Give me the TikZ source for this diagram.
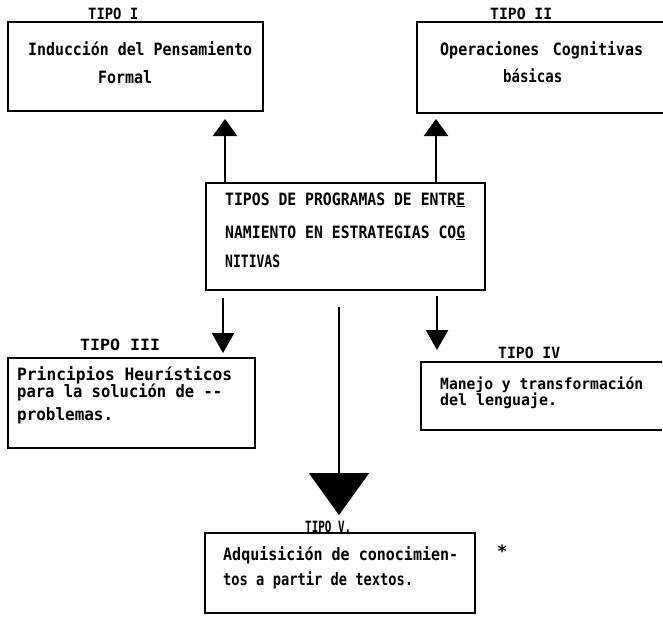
\documentclass[tikz,border=0pt]{standalone}
\usepackage{fontspec}
\usepackage{graphicx}
\usetikzlibrary{arrows.meta}
\newfontfamily\twfont{DejaVu Sans Mono Bold}
\newcommand\fitline[2]{\resizebox{#1pt}{\height}{#2}}
\begin{document}
\begin{tikzpicture}[x=1pt,y=-1pt,
  boxframe/.style={draw, line width=1.6pt, inner sep=0pt},
  openframe/.style={draw=none, inner sep=0pt},
  txt/.style={anchor=base west, inner sep=0pt, font={\twfont\fontsize{17pt}{20pt}\selectfont}},
  tighttxt/.style={anchor=base west, inner sep=0pt, font={\twfont\fontsize{15.5pt}{18pt}\selectfont}},
  lbl/.style={anchor=base west, inner sep=0pt, font={\twfont\fontsize{15.5pt}{18pt}\selectfont}},
  smallarrow/.style={line width=2.4pt, -{Triangle[width=24pt,length=17pt]}},
  downarrow/.style={line width=2.4pt, -{Triangle[width=22pt,length=20pt]}},
  bigarrow/.style={line width=2.4pt, -{Triangle[width=60pt,length=42pt]}}
]
\fill[white] (0,0) rectangle (663,616);
\useasboundingbox (0,0) rectangle (663,616);

% Box I
\node[boxframe, minimum width=255pt, minimum height=89pt] (b1) at (135.5,66.5) {};
\node[lbl] (l1) at (88,19) {\fitline{50}{TIPO I}};
\node[txt] (t1a) at (28,55) {\fitline{224}{Inducción del Pensamiento}};
\node[txt] (t1b) at (98,83) {\fitline{54}{Formal}};

% Box II (open to the right)
\node[openframe, minimum width=246pt, minimum height=91pt] (b2) at (540,67.5) {};
\draw[line width=1.6pt] (b2.north east) -- (b2.north west) -- (b2.south west) -- (b2.south east);
\node[lbl] (l2) at (490,19) {\fitline{62}{TIPO II}};
\node[txt] (t2a) at (440,55) {\fitline{203}{Operaciones\hspace{0.9em}Cognitivas}};
\node[txt] (t2b) at (503,82) {\fitline{59}{básicas}};

% Central box
\node[boxframe, minimum width=279pt, minimum height=107pt] (c) at (345.5,236.5) {};
\node[txt] (c1) at (225,205) {\fitline{240}{TIPOS DE PROGRAMAS DE ENTR\underline{E}}};
\node[txt] (c2) at (225,238) {\fitline{240}{NAMIENTO EN ESTRATEGIAS CO\underline{G}}};
\node[txt] (c3) at (225,267) {\fitline{55}{NITIVAS}};

% Box III
\node[boxframe, minimum width=247pt, minimum height=90pt] (b3) at (131.5,403) {};
\node[lbl] (l3) at (80,350) {\fitline{80}{TIPO III}};
\node[txt] (t3a) at (17,380) {\fitline{215}{Principios Heurísticos}};
\node[txt] (t3b) at (17,397) {\fitline{205}{para la solución de --}};
\node[txt] (t3c) at (17,420) {\fitline{96}{problemas.}};

% Box IV (open to the right)
\node[openframe, minimum width=241pt, minimum height=68pt] (b4) at (541.5,396) {};
\draw[line width=1.6pt] (b4.north east) -- (b4.north west) -- (b4.south west) -- (b4.south east);
\node[lbl] (l4) at (498,358) {\fitline{62}{TIPO IV}};
\node[tighttxt] (t4a) at (440,389) {\fitline{203}{Manejo y transformación}};
\node[tighttxt] (t4b) at (440,405) {\fitline{117}{del lenguaje.}};

% Box V
\node[boxframe, minimum width=270pt, minimum height=80pt] (b5) at (340,573) {};
\node[lbl] (l5) at (305,532) {\fitline{46}{TIPO V.}};
\node[txt] (t5a) at (223,560) {\fitline{235}{Adquisición de conocimien-}};
\node[txt] (t5b) at (223,585) {\fitline{190}{tos a partir de textos.}};
\node[txt] (star) at (497,557) {*};

% Arrows
\coordinate (a1s) at (225,183);
\coordinate (a1e) at (225,119);
\coordinate (a2s) at (436,183);
\coordinate (a2e) at (436,119);
\coordinate (a3s) at (223,298);
\coordinate (a3e) at (223,353);
\coordinate (a4s) at (437,296);
\coordinate (a4e) at (437,350);
\coordinate (a5s) at (339,307);
\coordinate (a5e) at (339,515);
\draw[smallarrow] (a1s) -- (a1e);
\draw[smallarrow] (a2s) -- (a2e);
\draw[downarrow] (a3s) -- (a3e);
\draw[downarrow] (a4s) -- (a4e);
\draw[bigarrow] (a5s) -- (a5e);
\end{tikzpicture}
\end{document}
